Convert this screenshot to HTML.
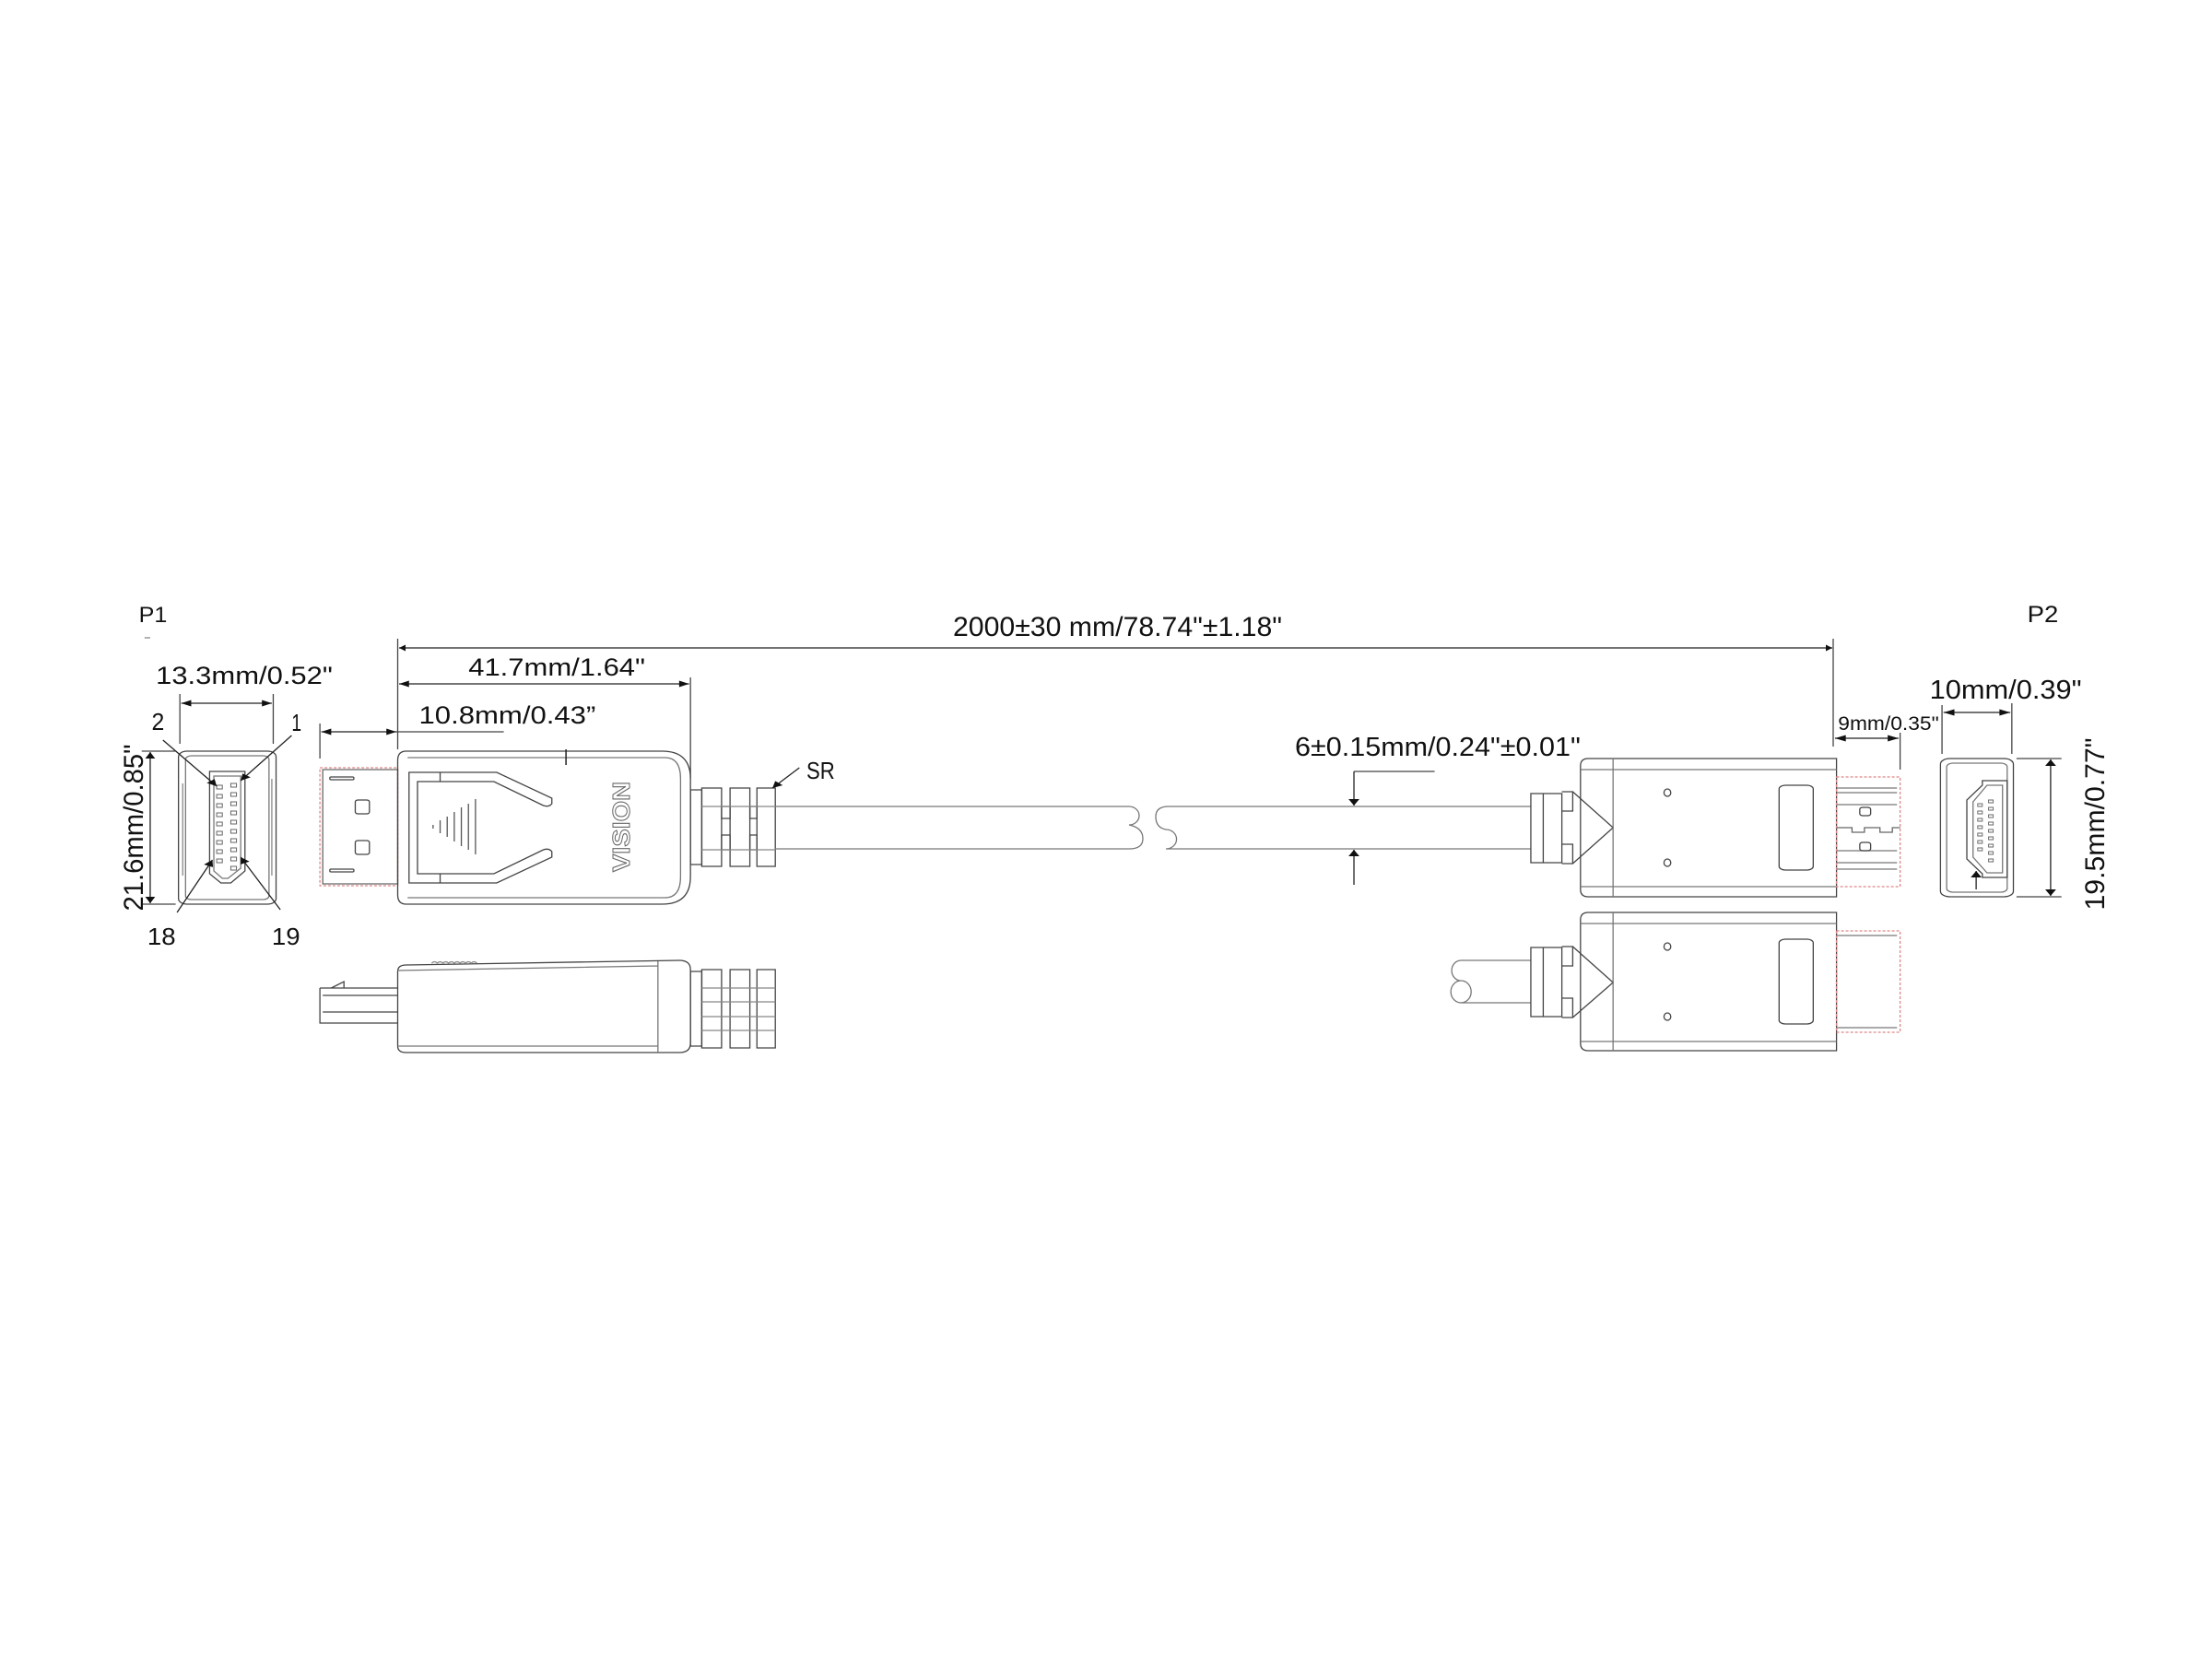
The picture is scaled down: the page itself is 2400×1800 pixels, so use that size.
<!DOCTYPE html>
<html><head><meta charset="utf-8"><style>
html,body{margin:0;padding:0;background:#fff;}
svg{display:block}
svg *{vector-effect:non-scaling-stroke}
text{font-family:"Liberation Sans Narrow","Liberation Sans",sans-serif;fill:#111;}
</style></head><body>
<svg width="2400" height="1800" viewBox="0 0 2400 1800" xmlns="http://www.w3.org/2000/svg">
<defs>
<marker id="a" viewBox="0 0 10 10" refX="10" refY="5" markerWidth="14" markerHeight="7" markerUnits="userSpaceOnUse" orient="auto-start-reverse"><path d="M0,0 L10,5 L0,10 z" fill="#111"/></marker>
</defs>

<g transform="translate(120,0) scale(1.5345,1) translate(-120,0)">
<g fill="none" stroke="#444" stroke-width="1.3">
<rect x="168" y="815" width="69" height="166" rx="6"/>
<rect x="173" y="820" width="59" height="156" rx="4" stroke="#777"/>
<path d="M190,837 L215,837 L215,945 L205,958 L198,958 L190,948 Z"/>
<path d="M193,842 L212,842 L212,942 L203,953 L199,953 L193,945 Z" stroke="#777"/>
<g stroke="#666" stroke-width="1">
<rect x="195" y="852" width="4" height="4"/><rect x="195" y="862" width="4" height="4"/><rect x="195" y="872" width="4" height="4"/><rect x="195" y="882" width="4" height="4"/><rect x="195" y="892" width="4" height="4"/><rect x="195" y="902" width="4" height="4"/><rect x="195" y="912" width="4" height="4"/><rect x="195" y="922" width="4" height="4"/><rect x="195" y="932" width="4" height="4"/>
<rect x="205" y="850" width="4" height="4"/><rect x="205" y="860" width="4" height="4"/><rect x="205" y="870" width="4" height="4"/><rect x="205" y="880" width="4" height="4"/><rect x="205" y="890" width="4" height="4"/><rect x="205" y="900" width="4" height="4"/><rect x="205" y="910" width="4" height="4"/><rect x="205" y="920" width="4" height="4"/><rect x="205" y="930" width="4" height="4"/><rect x="205" y="940" width="4" height="4"/>
</g>
<line x1="171" y1="850" x2="171" y2="950" stroke="#888"/>
<line x1="234" y1="845" x2="234" y2="950" stroke="#888"/>
<line x1="157" y1="803" x2="195" y2="853" stroke="#222" marker-end="url(#a)"/>
<line x1="248" y1="798" x2="212" y2="847" stroke="#222" marker-end="url(#a)"/>
<line x1="167" y1="990" x2="192" y2="933" stroke="#222" marker-end="url(#a)"/>
<line x1="240" y1="987" x2="212" y2="930" stroke="#222" marker-end="url(#a)"/>
<line x1="169" y1="753" x2="169" y2="807"/><line x1="235" y1="753" x2="235" y2="807"/>
<line x1="170" y1="763" x2="234" y2="763" stroke="#222" marker-start="url(#a)" marker-end="url(#a)"/>
<line x1="142" y1="815" x2="166" y2="815"/><line x1="142" y1="981" x2="166" y2="981"/>
<line x1="148" y1="816" x2="148" y2="980" stroke="#222" marker-start="url(#a)" marker-end="url(#a)"/>

<rect x="268" y="833" width="55" height="128" stroke="#d88" stroke-dasharray="3,2"/>
<rect x="270" y="835" width="53" height="124" stroke="#666"/>
<rect x="275" y="843" width="17" height="3" rx="1"/><rect x="275" y="943" width="17" height="3" rx="1"/>
<rect x="293" y="868" width="10" height="15" rx="2"/><rect x="293" y="912" width="10" height="15" rx="2"/>
<path d="M329,815 L510,815 Q530,815 530,845 L530,951 Q530,981 510,981 L329,981 Q323,981 323,971 L323,825 Q323,815 329,815 Z"/>
<path d="M330,822 L512,822 Q523,822 523,845 L523,951 Q523,974 512,974 L330,974" stroke="#777"/>
<path d="M331,838 L393,838 L432,866 L432,872 Q430,876 426,874 L391,848 L337,848 L337,948 L391,948 L426,922 Q430,920 432,924 L432,930 L393,958 L331,958 Z"/>
<line x1="353" y1="838" x2="353" y2="848"/><line x1="353" y1="948" x2="353" y2="958"/>
<g stroke="#555">
<line x1="348" y1="895" x2="348" y2="899"/><line x1="353" y1="890" x2="353" y2="904"/><line x1="358" y1="886" x2="358" y2="908"/><line x1="363" y1="881" x2="363" y2="913"/><line x1="368" y1="876" x2="368" y2="918"/><line x1="373" y1="872" x2="373" y2="922"/><line x1="378" y1="867" x2="378" y2="927"/>
</g>
<line x1="442" y1="813" x2="442" y2="830" stroke="#222" stroke-width="1.5"/>
<rect x="530" y="857" width="8" height="81"/>
<rect x="538" y="855" width="14" height="85"/><rect x="558" y="855" width="14" height="85"/><rect x="577" y="855" width="13" height="85"/>
<rect x="552" y="875" width="6" height="13"/><rect x="552" y="906" width="6" height="16"/>
<rect x="572" y="875" width="5" height="13"/><rect x="572" y="906" width="5" height="16"/>
<line x1="538" y1="875" x2="590" y2="875" stroke="#888"/><line x1="538" y1="922" x2="590" y2="922" stroke="#888"/>
<line x1="588" y1="855" x2="607" y2="833" stroke="#222" marker-start="url(#a)"/>

<path d="M268,1072 L268,1110 L323,1110"/>
<path d="M268,1072 L323,1072 M270,1080 L323,1080 M270,1098 L323,1098"/>
<path d="M276,1072 L285,1065 L285,1072"/>
<path d="M329,1047 L522,1042 Q530,1042 530,1052 L530,1132 Q530,1142 522,1142 L329,1142 Q323,1142 323,1135 L323,1054 Q323,1047 329,1047 Z"/>
<path d="M323,1053 L507,1048 M507,1043 L507,1142 M323,1135 L507,1135" stroke="#777"/>
<path d="M347,1045 q2,-3 4,0 q2,-3 4,0 q2,-3 4,0 q2,-3 4,0 q2,-3 4,0 q2,-3 4,0 q2,-3 4,0 q2,-3 4,0" stroke="#888"/>
<rect x="530" y="1054" width="8" height="81"/>
<rect x="538" y="1052" width="14" height="85"/><rect x="558" y="1052" width="14" height="85"/><rect x="577" y="1052" width="13" height="85"/>
<line x1="538" y1="1072" x2="590" y2="1072" stroke="#888"/><line x1="538" y1="1118" x2="590" y2="1118" stroke="#888"/>
<line x1="538" y1="1087" x2="590" y2="1087" stroke="#888"/><line x1="538" y1="1103" x2="590" y2="1103" stroke="#888"/>

<line x1="323" y1="693" x2="323" y2="813"/>
<line x1="530" y1="735" x2="530" y2="845"/>
<line x1="324" y1="742" x2="529" y2="742" stroke="#222" marker-start="url(#a)" marker-end="url(#a)"/>
<line x1="268" y1="785" x2="268" y2="823"/>
<line x1="269" y1="794" x2="322" y2="794" stroke="#222" marker-start="url(#a)" marker-end="url(#a)"/>
<line x1="322" y1="794" x2="398" y2="794"/>
</g>
<text x="140" y="675" font-size="24" textLength="20" lengthAdjust="spacingAndGlyphs">P1</text>
<line x1="144" y1="692" x2="148" y2="692" stroke="#666"/>
<text x="152" y="742" font-size="27" textLength="125" lengthAdjust="spacingAndGlyphs">13.3mm/0.52"</text>
<text x="149" y="792" font-size="26" textLength="9" lengthAdjust="spacingAndGlyphs">2</text>
<text x="248" y="793" font-size="26" textLength="7" lengthAdjust="spacingAndGlyphs">1</text>
<text x="146" y="1025" font-size="26" textLength="20" lengthAdjust="spacingAndGlyphs">18</text>
<text x="234" y="1025" font-size="26" textLength="20" lengthAdjust="spacingAndGlyphs">19</text>
<text x="373" y="733" font-size="27" textLength="125" lengthAdjust="spacingAndGlyphs">41.7mm/1.64"</text>
<text x="338" y="785" font-size="27" textLength="125" lengthAdjust="spacingAndGlyphs">10.8mm/0.43”</text>
<text x="612" y="845" font-size="26" textLength="20" lengthAdjust="spacingAndGlyphs">SR</text>
</g>

<text transform="translate(155,898) rotate(-90)" text-anchor="middle" font-size="30" textLength="181" lengthAdjust="spacingAndGlyphs" style="font-family:'Liberation Sans',sans-serif">21.6mm/0.85"</text>
<text transform="translate(683,897) rotate(-90)" text-anchor="middle" font-size="26" font-weight="bold" style="fill:#fff;stroke:#666;stroke-width:1;font-family:'Liberation Sans',sans-serif" textLength="98" lengthAdjust="spacingAndGlyphs">VISION</text>
<text transform="translate(2283,894) rotate(-90)" text-anchor="middle" font-size="30" textLength="187" lengthAdjust="spacingAndGlyphs" style="font-family:'Liberation Sans',sans-serif">19.5mm/0.77"</text>

<g fill="none" stroke="#444" stroke-width="1.3">
<line x1="1989" y1="693" x2="1989" y2="810"/>
<line x1="433" y1="703" x2="1988" y2="703" stroke="#222" marker-start="url(#a)" marker-end="url(#a)"/>
<path d="M841,875 L1225,875 A11,10 0 1 1 1225,895 Q1240,898 1240,910 Q1240,921 1225,921 L841,921" stroke="#777"/>
<path d="M1661,875 L1268,875 Q1254,875 1254,886 Q1254,898 1265,900 A11,10 0 1 1 1265,921 L1661,921" stroke="#777"/>
</g>
<text x="1034" y="690" font-size="30" textLength="357" lengthAdjust="spacingAndGlyphs" style="font-family:'Liberation Sans',sans-serif">2000±30 mm/78.74"±1.18"</text>

<g transform="translate(1400,0) scale(1.6835,1) translate(-1400,0)">
<g fill="none" stroke="#444" stroke-width="1.3">
<line x1="1441" y1="837" x2="1493" y2="837"/>
<line x1="1441" y1="837" x2="1441" y2="874" stroke="#222" marker-end="url(#a)"/>
<line x1="1441" y1="960" x2="1441" y2="922" stroke="#222" marker-end="url(#a)"/>

<rect x="1555" y="861" width="20" height="75"/><line x1="1563" y1="861" x2="1563" y2="936"/>
<path d="M1575,859 L1582,859 L1582,880 L1575,880 M1575,916 L1582,916 L1582,937 L1575,937"/>
<path d="M1582,859 L1608,898 L1582,937"/>
<path d="M1592,823 L1752,823 L1752,973 L1592,973 Q1587,973 1587,965 L1587,831 Q1587,823 1592,823 Z"/>
<path d="M1608,823 L1608,973 M1587,835 L1752,835 M1587,962 L1752,962" stroke="#777"/>
<ellipse cx="1643" cy="860" rx="2.2" ry="4"/><ellipse cx="1643" cy="936" rx="2.2" ry="4"/>
<rect x="1715" y="852" width="22" height="92" rx="4"/>
<rect x="1752" y="843" width="41" height="119" stroke="#d88" stroke-dasharray="3,2"/>
<path d="M1752,855 L1791,855 M1752,860 L1791,860 M1752,873 L1791,873 M1752,923 L1791,923 M1752,936 L1791,936 M1752,943 L1791,943" stroke="#777"/>
<path d="M1752,898 L1762,898 L1762,903 L1770,903 L1770,898 L1780,898 L1780,903 L1788,903 L1788,898 L1793,898" stroke="#666"/>
<rect x="1767" y="876" width="7" height="9" rx="2"/><rect x="1767" y="914" width="7" height="9" rx="2"/>

<path d="M1555,1042 L1510,1042 A6,11 0 0 0 1510,1064 A6,11 0 0 0 1510,1088 L1555,1088" stroke="#777"/>
<path d="M1510,1064 A6,11 0 0 1 1510,1088" stroke="#777"/>
<rect x="1555" y="1028" width="20" height="75"/><line x1="1563" y1="1028" x2="1563" y2="1103"/>
<path d="M1575,1027 L1582,1027 L1582,1048 L1575,1048 M1575,1083 L1582,1083 L1582,1104 L1575,1104"/>
<path d="M1582,1027 L1608,1066 L1582,1104"/>
<path d="M1592,990 L1752,990 L1752,1140 L1592,1140 Q1587,1140 1587,1132 L1587,998 Q1587,990 1592,990 Z"/>
<path d="M1608,990 L1608,1140 M1587,1002 L1752,1002 M1587,1130 L1752,1130" stroke="#777"/>
<ellipse cx="1643" cy="1027" rx="2.2" ry="4"/><ellipse cx="1643" cy="1103" rx="2.2" ry="4"/>
<rect x="1715" y="1019" width="22" height="92" rx="4"/>
<rect x="1752" y="1010" width="41" height="110" stroke="#d88" stroke-dasharray="3,2"/>
<path d="M1752,1015 L1791,1015 M1752,1115 L1791,1115" stroke="#777"/>

<line x1="1793" y1="795" x2="1793" y2="835"/>
<line x1="1751" y1="801" x2="1792" y2="801" stroke="#222" marker-start="url(#a)" marker-end="url(#a)"/>

<rect x="1819" y="823" width="47" height="150" rx="6"/>
<rect x="1823" y="828" width="39" height="140" rx="4" stroke="#777"/>
<path d="M1862,847 L1846,847 L1846,852 L1836,868 L1836,932 L1846,948 L1846,952 L1862,952 Z"/>
<path d="M1859,852 L1849,852 L1840,870 L1840,930 L1849,947 L1859,947 Z" stroke="#777"/>
<g stroke="#666" stroke-width="0.9">
<rect x="1843" y="872" width="3" height="3"/><rect x="1843" y="880" width="3" height="3"/><rect x="1843" y="888" width="3" height="3"/><rect x="1843" y="896" width="3" height="3"/><rect x="1843" y="904" width="3" height="3"/><rect x="1843" y="912" width="3" height="3"/><rect x="1843" y="920" width="3" height="3"/>
<rect x="1850" y="868" width="3" height="3"/><rect x="1850" y="876" width="3" height="3"/><rect x="1850" y="884" width="3" height="3"/><rect x="1850" y="892" width="3" height="3"/><rect x="1850" y="900" width="3" height="3"/><rect x="1850" y="908" width="3" height="3"/><rect x="1850" y="916" width="3" height="3"/><rect x="1850" y="924" width="3" height="3"/><rect x="1850" y="932" width="3" height="3"/>
</g>
<line x1="1842" y1="965" x2="1842" y2="945" stroke="#222" marker-end="url(#a)"/>
<line x1="1820" y1="765" x2="1820" y2="818"/><line x1="1865" y1="763" x2="1865" y2="818"/>
<line x1="1821" y1="773" x2="1864" y2="773" stroke="#222" marker-start="url(#a)" marker-end="url(#a)"/>
<line x1="1868" y1="823" x2="1897" y2="823"/><line x1="1868" y1="973" x2="1897" y2="973"/>
<line x1="1890" y1="824" x2="1890" y2="972" stroke="#222" marker-start="url(#a)" marker-end="url(#a)"/>
</g>
<text x="1875" y="675" font-size="25" textLength="20" lengthAdjust="spacingAndGlyphs">P2</text>
<text x="1403" y="820" font-size="29" textLength="184" lengthAdjust="spacingAndGlyphs">6±0.15mm/0.24"±0.01"</text>
<text x="1812" y="758" font-size="29" textLength="98" lengthAdjust="spacingAndGlyphs">10mm/0.39"</text>
<text x="1753" y="792" font-size="21" textLength="65" lengthAdjust="spacingAndGlyphs">9mm/0.35"</text>
</g>
</svg>
</body></html>
